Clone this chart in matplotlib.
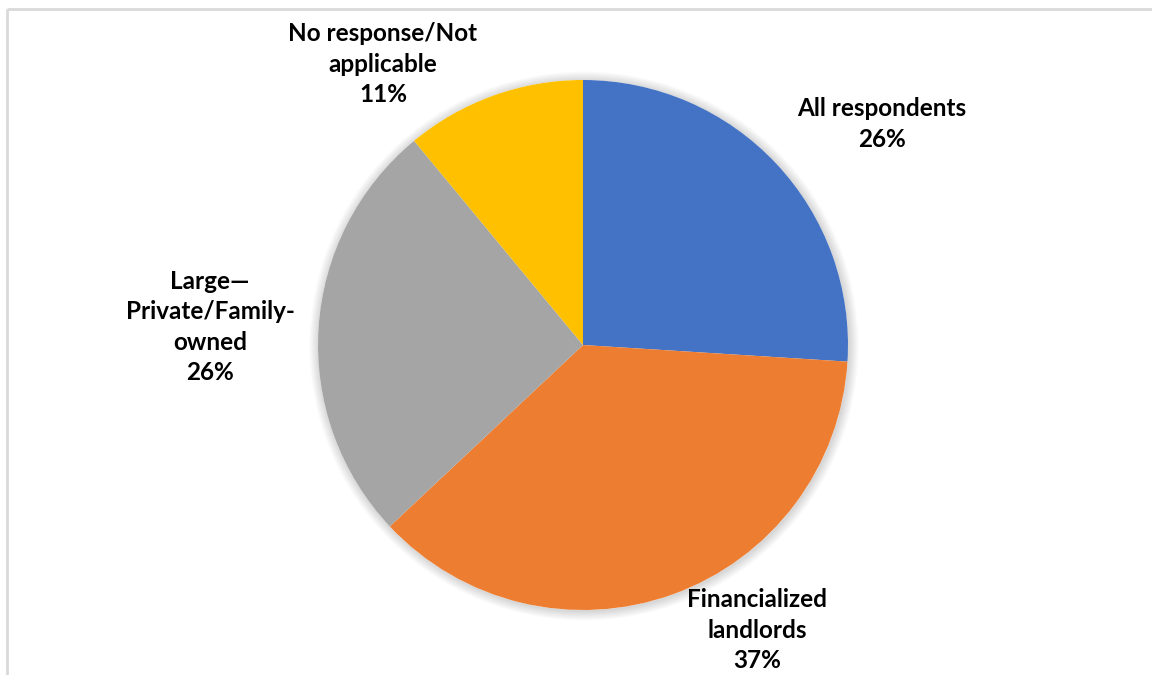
import matplotlib
matplotlib.use("Agg")
import matplotlib.pyplot as plt
from matplotlib.patches import Circle
from matplotlib.lines import Line2D

categories = ["All respondents", "Financialized\nlandlords",
              "Large\u2014\nPrivate/Family-\nowned", "No response/Not\napplicable"]
shares = [26, 37, 26, 11]
colors = ["#4472C4", "#ED7D31", "#A5A5A5", "#FFC000"]

W, H = 1152, 675
fig = plt.figure(figsize=(W / 100, H / 100), dpi=100)
ax = fig.add_axes([0, 0, 1, 1])
ax.set_xlim(0, W)
ax.set_ylim(0, H)
ax.axis("off")

cx, cy, r = 583, H - 345, 265

# soft shadow around the pie
for i in range(8):
    ax.add_patch(Circle((cx + 1, cy - 1), r + 1 + i * 1.2, facecolor="#000000",
                        alpha=0.018, edgecolor="none", zorder=1))
ax.add_patch(Circle((cx, cy), r, facecolor="white", edgecolor="none", zorder=1.5))

wedges, _ = ax.pie(shares, colors=colors, startangle=90, counterclock=False,
                   center=(cx, cy), radius=r, frame=True,
                   wedgeprops=dict(linewidth=0, zorder=2))
for w in wedges:
    w.set_zorder(2)
ax.set_xlim(0, W)
ax.set_ylim(0, H)
ax.set_aspect("auto")
ax.axis("off")

label_pos = [(882, H - 124), (757, H - 630), (210, H - 327), (383, H - 64)]
font = dict(family=["Lato", "DejaVu Sans"], fontsize=17.5, fontweight="bold",
            color="#000000", ha="center", va="center", linespacing=1.38)
for (x, y), name, v in zip(label_pos, categories, shares):
    ax.text(x, y, f"{name}\n{v}%", zorder=5, **font)

# chart area border
border = dict(color="#d9d9d9", linewidth=2, solid_capstyle="butt")
ax.add_line(Line2D([7, W], [H - 9, H - 9], **border))
ax.add_line(Line2D([7, 7], [0, H - 9], **border))

fig.savefig("out.png", dpi=100, facecolor="white")
